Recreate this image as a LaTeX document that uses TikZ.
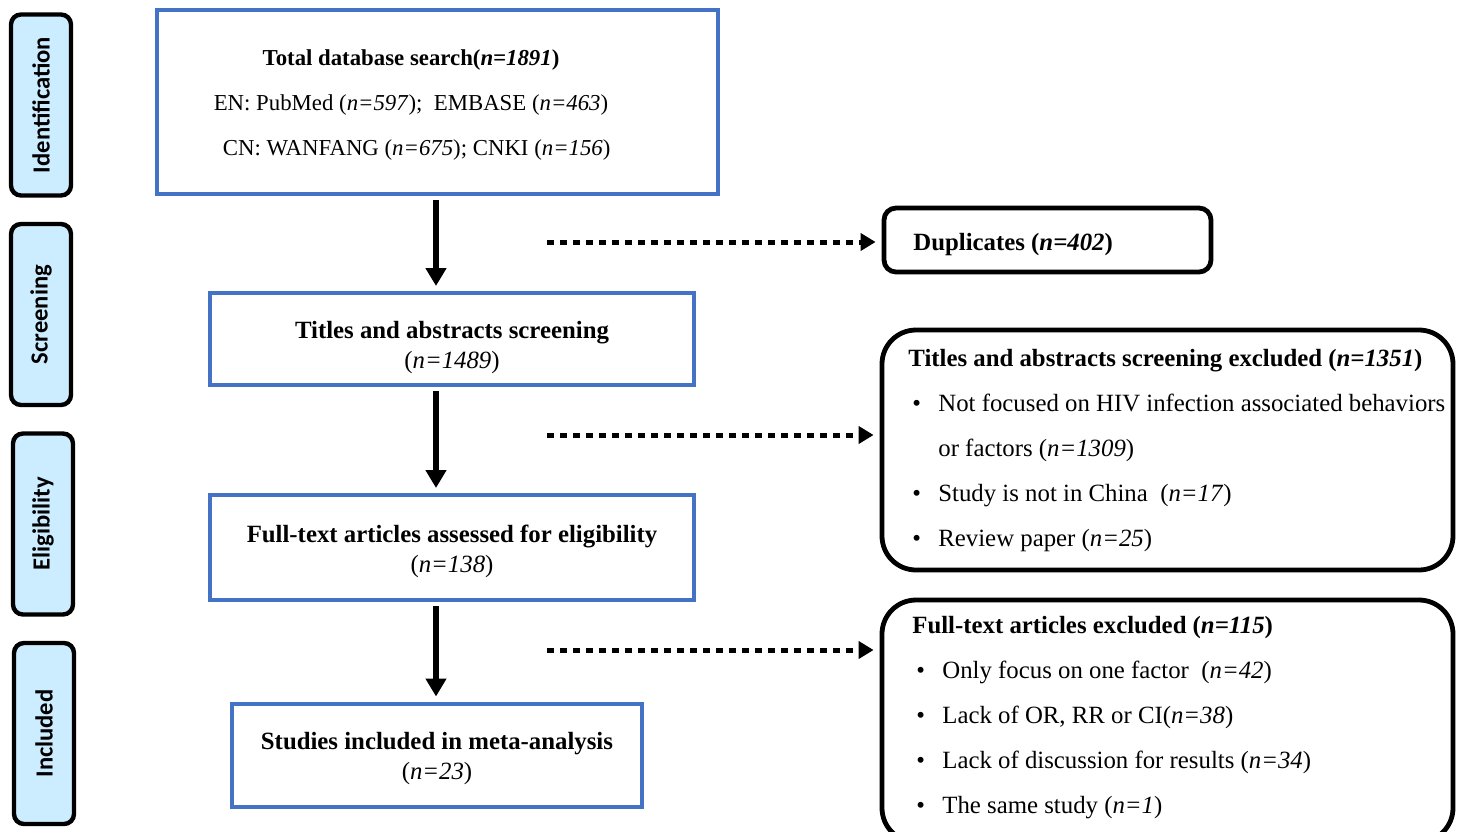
\documentclass[tikz,border=0pt]{standalone}
\usepackage{fontspec}
\setmainfont{Liberation Serif}
\newfontfamily\stagefont{Carlito}
\usepackage{tikz}
\usetikzlibrary{
  arrows.meta,
  calc,
  positioning}

\definecolor{boxblue}{RGB}{68,114,196}
\definecolor{stagefill}{RGB}{204,236,255}

\tikzset{
  stagebox/.style={draw=black, line width=2.2pt, rounded corners=5pt, fill=stagefill,
    rotate=90, minimum width=90.5pt, minimum height=30pt, inner sep=0pt,
    font=\stagefont\bfseries\fontsize{12.3}{14}\selectfont},
  flowbox/.style={draw=boxblue, line width=2pt, inner sep=0pt},
  flowtext/.style={align=center, inner sep=0pt, font=\fontsize{12.4}{15}\selectfont},
  exclbox/.style={draw=black, line width=2.4pt, inner sep=0pt},
  listtext/.style={align=left, inner sep=0pt, anchor=west,
    font=\fontsize{12.4}{22.5}\selectfont},
  flowarrow/.style={line width=3pt, -{Triangle[width=10pt,length=9pt]},
    shorten <=2pt, shorten >=2.5pt},
  skiparrow/.style={line width=2.5pt, dash pattern=on 3.5pt off 3pt,
    -{Triangle[width=8.5pt,length=7.5pt]}, shorten >=3pt}
}

\newcommand{\nval}[1]{(\textit{n=#1})}
\newcommand{\bul}{\makebox[15pt][l]{\hspace{2pt}\textbullet}}

\begin{document}
\begin{tikzpicture}[x=0.5pt, y=-0.5pt]
    \useasboundingbox (0,0) rectangle (1463,831);

    % stages
    \node[stagebox] (ident) at (41,105) {Identification};
    \node[stagebox] (screen) at (41,314.5) {Screening};
    \node[stagebox] (elig) at (43,524) {Eligibility};
    \node[stagebox] (incl) at (44,733.5) {Included};

    % main flow
    \node[flowbox, minimum width=280.5pt, minimum height=92pt] (total) at (437.5,102) {};
    \node[flowtext, font=\fontsize{11.4}{22.5}\selectfont] (totaltext) at (411,105)
      {\textbf{Total database search(\textit{n=1891})}\\
       EN: PubMed \nval{597};\ \ EMBASE \nval{463}\\
       \ \ CN: WANFANG \nval{675}; CNKI \nval{156}};
    \node[flowbox, minimum width=242pt, minimum height=46pt] (titles) at (452,339) {};
    \node[flowtext] (titlestext) at (452,348)
      {\textbf{Titles and abstracts screening}\\ \nval{1489}};
    \node[flowbox, minimum width=242pt, minimum height=52.5pt] (full) at (452,547.5) {};
    \node[flowtext] (fulltext) at (452,551)
      {\textbf{Full-text articles assessed for eligibility}\\ \nval{138}};
    \node[flowbox, minimum width=205pt, minimum height=51.5pt] (studies) at (437,755) {};
    \node[flowtext] (studiestext) at (437,759)
      {\textbf{Studies included in meta-analysis}\\ \nval{23}};

    \coordinate (spine) at (436,0);
    \draw[flowarrow] (spine |- total.south) -- (spine |- titles.north);
    \draw[flowarrow] (spine |- titles.south) -- (spine |- full.north);
    \draw[flowarrow] (spine |- full.south) -- (spine |- studies.north);

    % excluded records
    \node[exclbox, rounded corners=6pt, minimum width=163.5pt, minimum height=32pt] (dups) at (1047.5,240) {};
    \node[listtext] (dupstext) at (913,245) {\textbf{Duplicates (\textit{n=402})}};

    \node[exclbox, rounded corners=17pt, minimum width=285.5pt, minimum height=120pt] (scrx) at (1167.5,450) {};
    \node[listtext] (scrxtext) at (908,451)
      {\textbf{Titles and abstracts screening excluded (\textit{n=1351})}\\
       \bul Not focused on HIV infection associated behaviors\\
       \hspace*{15pt}or factors \nval{1309}\\
       \bul Study is not in China\ \ \nval{17}\\
       \bul Review paper \nval{25}};

    \node[exclbox, rounded corners=17pt, minimum width=285.5pt, minimum height=121pt] (ftx) at (1167.5,721) {};
    \node[listtext] (ftxtext) at (912,718)
      {\textbf{Full-text articles excluded (\textit{n=115})}\\
       \bul Only focus on one factor\ \ \nval{42}\\
       \bul Lack of OR, RR or CI(\textit{n=38})\\
       \bul Lack of discussion for results \nval{34}\\
       \bul The same study \nval{1}};

    \coordinate (dupsfrom) at (547,242);
    \coordinate (scrxfrom) at (547,435);
    \coordinate (ftxfrom) at (547,650);
    \draw[skiparrow] (dupsfrom) -- (dupsfrom -| dups.west);
    \draw[skiparrow] (scrxfrom) -- (scrxfrom -| scrx.west);
    \draw[skiparrow] (ftxfrom) -- (ftxfrom -| ftx.west);
\end{tikzpicture}
\end{document}
